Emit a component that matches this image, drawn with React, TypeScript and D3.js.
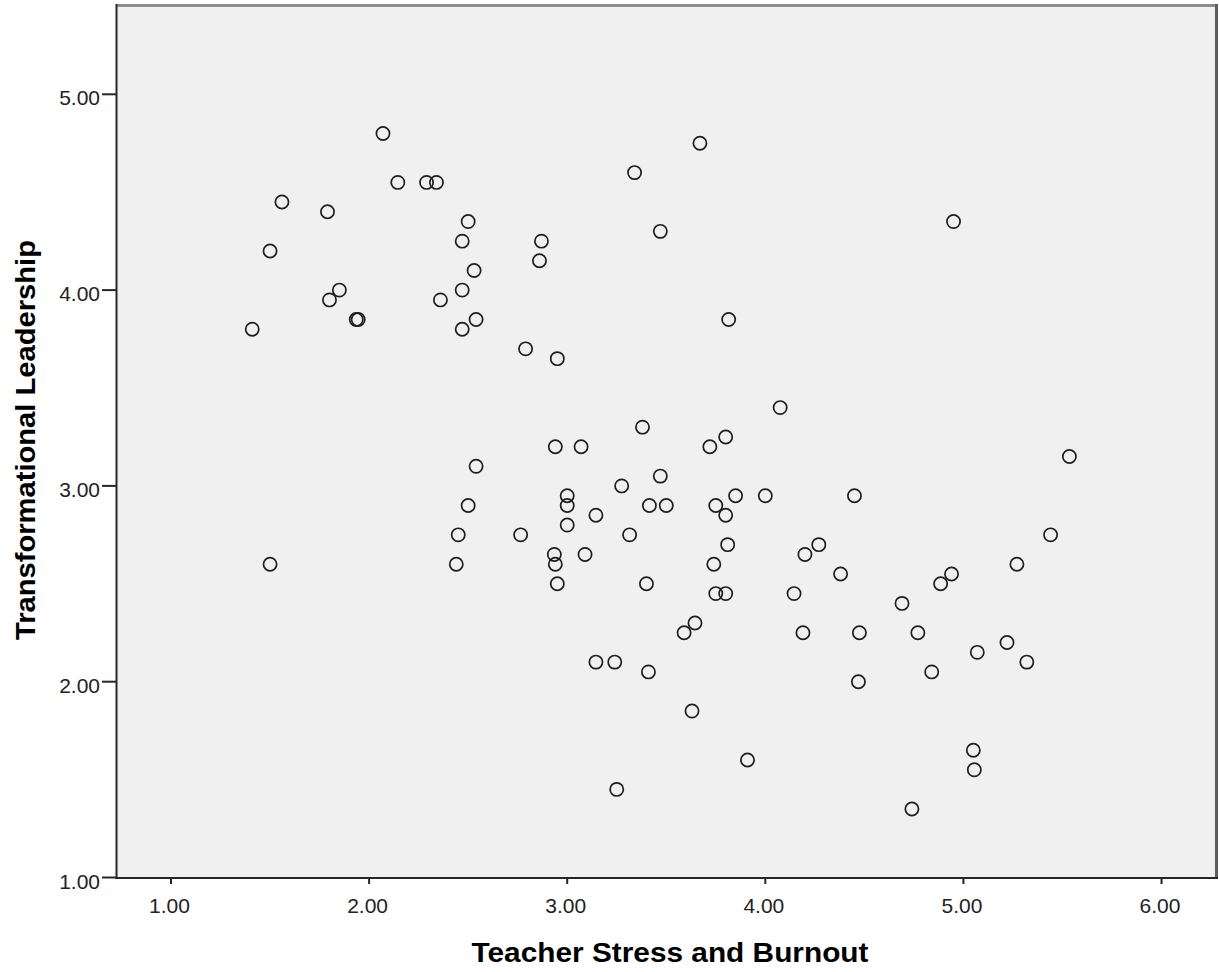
import React from "react";
import * as d3 from "d3";

// Teacher Stress and Burnout (x) vs Transformational Leadership (y)
const stressValues: number[] = [
  1.41, 1.50, 1.56, 1.50, 1.79, 1.80, 1.85, 1.935, 1.945, 2.07,
  2.145, 2.29, 2.34, 2.36, 2.47, 2.47, 2.47, 2.50, 2.53, 2.54,
  2.54, 2.50, 2.45, 2.44, 2.765, 2.79, 2.87, 2.86, 2.95, 2.94,
  3.07, 2.935, 2.94, 2.95, 3.00, 3.00, 3.00, 3.09, 3.145, 3.145,
  3.24, 3.25, 3.275, 3.315, 3.34, 3.38, 3.40, 3.415, 3.41, 3.47,
  3.47, 3.50, 3.59, 3.645, 3.63, 3.67, 3.72, 3.74, 3.75, 3.75,
  3.80, 3.80, 3.80, 3.81, 3.85, 3.815, 3.91, 4.00, 4.075, 4.145,
  4.19, 4.20, 4.27, 4.38, 4.45, 4.47, 4.475, 4.69, 4.77, 4.84,
  4.885, 4.94, 4.95, 5.05, 5.055, 5.07, 5.22, 5.27, 5.32, 5.44,
  5.535, 4.74,
];
const leadershipValues: number[] = [
  3.80, 4.20, 4.45, 2.60, 4.40, 3.95, 4.00, 3.85, 3.85, 4.80,
  4.55, 4.55, 4.55, 3.95, 4.25, 4.00, 3.80, 4.35, 4.10, 3.85,
  3.10, 2.90, 2.75, 2.60, 2.75, 3.70, 4.25, 4.15, 3.65, 3.20,
  3.20, 2.65, 2.60, 2.50, 2.95, 2.90, 2.80, 2.65, 2.85, 2.10,
  2.10, 1.45, 3.00, 2.75, 4.60, 3.30, 2.50, 2.90, 2.05, 4.30,
  3.05, 2.90, 2.25, 2.30, 1.85, 4.75, 3.20, 2.60, 2.90, 2.45,
  2.45, 3.25, 2.85, 2.70, 2.95, 3.85, 1.60, 2.95, 3.40, 2.45,
  2.25, 2.65, 2.70, 2.55, 2.95, 2.00, 2.25, 2.40, 2.25, 2.05,
  2.50, 2.55, 4.35, 1.65, 1.55, 2.15, 2.20, 2.60, 2.10, 2.75,
  3.15, 1.35,
];

const xTicks: number[] = [1, 2, 3, 4, 5, 6];
const yTicks: number[] = [1, 2, 3, 4, 5];
const xTitle = "Teacher Stress and Burnout";
const yTitle = "Transformational Leadership";

const W = 1219;
const H = 972;
const left = 117;
const right = 1216;
const top = 6;
const bottom = 878;

const FONT = "'Liberation Sans', Arial, Helvetica, sans-serif";

export default function App() {
  const x = d3.scaleLinear().domain([0.7274, 6.275]).range([left, right]);
  const y = d3.scaleLinear().domain([1, 5.451]).range([bottom - 0.5, top]);
  const fmt = d3.format(".2f");

  const points = stressValues.map((v, i) => ({ sx: v, ly: leadershipValues[i] }));

  return (
    <svg
      width={W}
      height={H}
      style={{ position: "absolute", left: 0, top: 0, background: "#ffffff" }}
    >
      <rect x={left} y={top} width={right - left} height={bottom - top} fill="#f0f0f0" />
      {/* frame top / right */}
      <line x1={left} x2={right + 1.5} y1={top - 0.5} y2={top - 0.5} stroke="#8c8c8c" strokeWidth={3} />
      <line x1={right + 0.5} x2={right + 0.5} y1={top - 2} y2={bottom} stroke="#5e5e5e" strokeWidth={3} />

      {/* points */}
      <g>
        {points.map((p, i) => (
          <circle
            key={i}
            cx={x(p.sx)}
            cy={y(p.ly)}
            r={6.6}
            fill="none"
            stroke="#1e1e1e"
            strokeWidth={1.7}
          />
        ))}
      </g>

      {/* axes */}
      <line x1={left - 0.5} x2={left - 0.5} y1={top - 2} y2={bottom + 1} stroke="#262626" strokeWidth={2} />
      <line x1={left - 1.5} x2={right + 2} y1={bottom} y2={bottom} stroke="#262626" strokeWidth={2} />

      {/* y ticks */}
      {yTicks.map((t) => (
        <g key={"y" + t}>
          <line x1={102} x2={left - 1} y1={y(t)} y2={y(t)} stroke="#262626" strokeWidth={2} />
          <text
            x={100}
            y={y(t) + 11}
            textAnchor="end"
            fontFamily={FONT}
            fontSize={21}
            fill="#222"
          >
            {fmt(t)}
          </text>
        </g>
      ))}

      {/* x ticks */}
      {xTicks.map((t) => (
        <g key={"x" + t}>
          <line x1={x(t)} x2={x(t)} y1={bottom} y2={bottom + 6} stroke="#262626" strokeWidth={2} />
          <text
            x={x(t) - 1.5}
            y={913}
            textAnchor="middle"
            fontFamily={FONT}
            fontSize={21}
            fill="#222"
          >
            {fmt(t)}
          </text>
        </g>
      ))}

      {/* titles */}
      <text
        x={670}
        y={962}
        textAnchor="middle"
        fontFamily={FONT}
        fontWeight="bold"
        fontSize={28}
        textLength={397}
        lengthAdjust="spacingAndGlyphs"
        fill="#000"
      >
        {xTitle}
      </text>
      <text
        transform={`translate(35, 440) rotate(-90)`}
        textAnchor="middle"
        fontFamily={FONT}
        fontWeight="bold"
        fontSize={28}
        textLength={400}
        lengthAdjust="spacingAndGlyphs"
        fill="#000"
      >
        {yTitle}
      </text>
    </svg>
  );
}
